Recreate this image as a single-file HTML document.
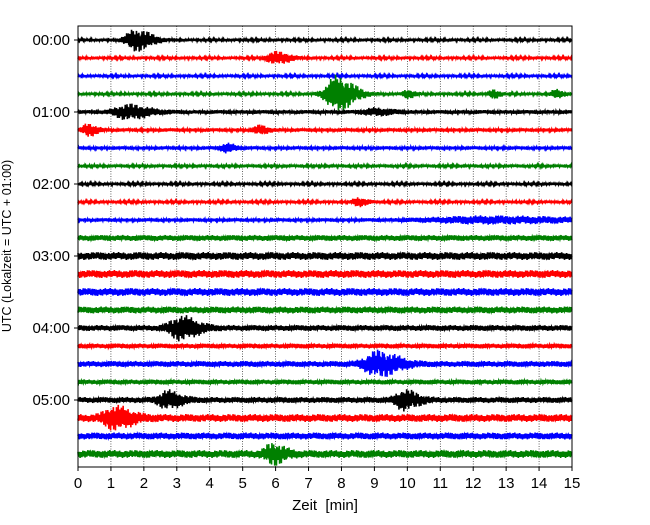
<!DOCTYPE html>
<html><head><meta charset="utf-8"><style>
body{margin:0;background:#fff}
svg text{font-family:"Liberation Sans","DejaVu Sans",sans-serif;}
</style></head><body>
<svg id="chart" width="650" height="520" xmlns="http://www.w3.org/2000/svg">
<rect width="650" height="520" fill="#fff"/>
<g id="grid"></g><g id="traces"></g>
<rect x="78" y="26" width="494" height="441" fill="none" stroke="#000" stroke-width="1"/>
<g id="xt"></g><g id="yt"></g>
<text x="325" y="510" font-size="15" text-anchor="middle" xml:space="preserve">Zeit  [min]</text>
<text transform="translate(11,246) rotate(-90)" font-size="12.5" text-anchor="middle">UTC (Lokalzeit = UTC + 01:00)</text>
</svg>
<script>
const xTicks=[0,1,2,3,4,5,6,7,8,9,10,11,12,13,14,15];
const yTickLabels=["00:00","01:00","02:00","03:00","04:00","05:00"];
const colors=["#000","red","blue","green"];
const baseAmp=[1.5,1.5,1.5,1.5,2,1.8,1.8,1.6,1.5,1.5,1.8,3,4,4,4,3.5,3,2.5,3,2.5,3,4,3.5,4];
// [trace, time(min), amplitude(px), duration(min)]
const events=[[0,1.75,11,0.45],[1,6.0,6,0.4],[3,7.85,18,0.5],[3,10.0,4,0.2],[3,12.6,4,0.2],[3,14.5,4,0.2],
[4,1.5,7,0.6],[4,9.0,3,0.5],[5,0.3,6,0.25],[5,5.5,4,0.25],[6,4.5,4,0.25],[9,8.5,4,0.25],[10,12.4,3,2.6],
[16,3.1,11,0.5],[18,9.1,12,0.6],[20,2.7,8,0.4],[20,9.9,9,0.4],[21,1.1,10,0.5],[23,5.9,9,0.35]];
const X0=78,X1=572,Y0=40,DY=18;
const xs=t=>X0+(X1-X0)*t/15, ys=i=>Y0+DY*i;
const NS="http://www.w3.org/2000/svg";
const mk=(tag,attrs,parent)=>{const e=document.createElementNS(NS,tag);for(const k in attrs)e.setAttribute(k,attrs[k]);parent.appendChild(e);return e;};
const grid=document.getElementById('grid'),xt=document.getElementById('xt'),yt=document.getElementById('yt'),tr=document.getElementById('traces');
xTicks.forEach(t=>{
 if(t>0&&t<15){const l=mk('line',{x1:xs(t),x2:xs(t),y1:26,y2:467,stroke:'#000','stroke-width':0.6,'stroke-dasharray':'1,1.5'},grid);
 
 }
 const tk=mk('line',{x1:xs(t),x2:xs(t),y1:467,y2:471,stroke:'#000'},xt);
 
 
 const tx=mk('text',{x:xs(t),y:488,'font-size':15,'text-anchor':'middle'},xt);tx.textContent=t;
 
 
});
yTickLabels.forEach((s,k)=>{const y=ys(k*4);
 const tk=mk('line',{x1:74,x2:78,y1:y,y2:y,stroke:'#000'},yt);
 
 
 const tx=mk('text',{x:70,y:y+5,'font-size':15,'text-anchor':'end'},yt);tx.textContent=s;
 
 
});
baseAmp.forEach((b,i)=>{
 const pts=[];let k=0;
 for(let px=X0;px<=X1;px+=0.35,k++){
  const t=(px-X0)/(X1-X0)*15;let a=b;
  events.forEach(e=>{if(e[0]===i){const d=(t-e[1])/e[3];a+=e[2]*(d<0?Math.exp(-d*d*2):Math.exp(-d*d*0.6));}});
  const s=Math.sin(k*2.7+i)*0.6+Math.sin(k*1.3+i*3)*0.4;
  pts.push(px.toFixed(2)+','+(ys(i)+a*s).toFixed(1));
 }
 const p=mk('polyline',{points:pts.join(' '),fill:'none',stroke:colors[i%4],'stroke-width':1.6},tr);
 
 
});
</script>
</body></html>
